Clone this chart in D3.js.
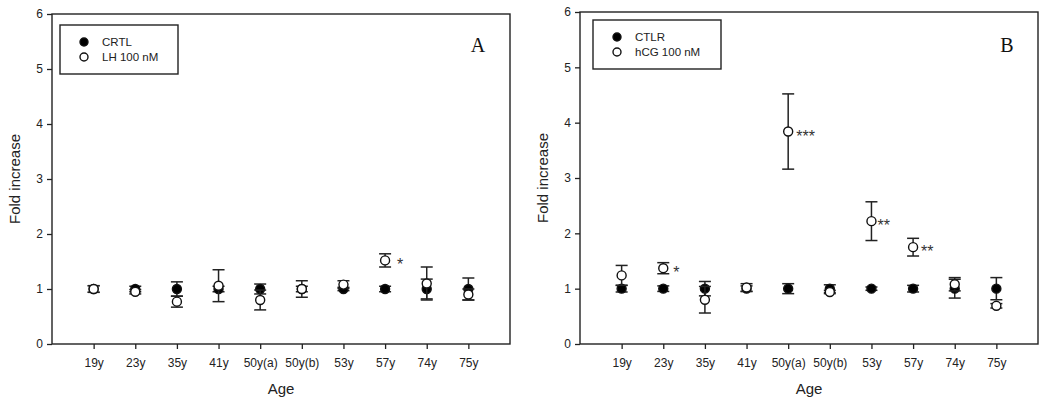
<!DOCTYPE html>
<html>
<head>
<meta charset="utf-8">
<script src="https://cdn.jsdelivr.net/npm/d3@7"></script>
<style>
  body { margin: 0; background: #fff; }
  svg { display: block; font-family: "Liberation Sans", Arial, sans-serif; }
</style>
</head>
<body>
<svg id="chart" width="1045" height="399"></svg>
<script>
const ages = ["19y", "23y", "35y", "41y", "50y(a)", "50y(b)", "53y", "57y", "74y", "75y"];
const yTicks = [0, 1, 2, 3, 4, 5, 6];

// panel A
const ctrlA = [1.0, 1.0, 1.0, 1.0, 1.0, 1.0, 1.0, 1.0, 1.0, 1.0];
const ctrlErrA = [0.06, 0.05, 0.13, 0.05, 0.09, 0.05, 0.03, 0.05, 0.18, 0.2];
const lhA = [1.0, 0.95, 0.77, 1.06, 0.8, 1.0, 1.08, 1.52, 1.1, 0.9];
const lhErrA = [0.06, 0.04, 0.1, 0.29, 0.18, 0.15, 0.07, 0.12, 0.3, 0.1];
const starsA = [{ i: 7, label: "*" }];

// panel B
const ctrlB = [1.0, 1.0, 1.0, 1.0, 1.0, 1.0, 1.0, 1.0, 1.0, 1.0];
const ctrlErrB = [0.06, 0.05, 0.13, 0.05, 0.09, 0.07, 0.03, 0.06, 0.17, 0.2];
const hcgB = [1.24, 1.37, 0.8, 1.02, 3.84, 0.94, 2.22, 1.75, 1.08, 0.69];
const hcgErrB = [0.18, 0.1, 0.24, 0.07, 0.68, 0.03, 0.35, 0.16, 0.12, 0.04];
const starsB = [{ i: 1, label: "*" }, { i: 4, label: "***" }, { i: 6, label: "**" }, { i: 7, label: "**" }];

const svg = d3.select("#chart");
const ink = "#222";

function drawPanel(p) {
  const x = d3.scaleLinear().domain([0, ages.length + 1]).range([p.left, p.right]);
  const y = d3.scaleLinear().domain([0, 6]).range([p.bottom, p.top]);
  const g = svg.append("g");

  // frame
  g.append("rect")
    .attr("x", p.left).attr("y", p.top)
    .attr("width", p.right - p.left).attr("height", p.bottom - p.top)
    .attr("fill", "none").attr("stroke", ink).attr("stroke-width", 1.4);

  const yAxis = d3.axisLeft(y).tickValues(yTicks).tickFormat(d3.format("d"))
    .tickSize(5).tickPadding(4).tickSizeOuter(0);
  const ya = g.append("g").attr("transform", `translate(${p.left},0)`).call(yAxis);
  const xAxis = d3.axisBottom(x).tickValues(d3.range(1, ages.length + 1))
    .tickFormat((d) => ages[d - 1]).tickSize(5).tickPadding(9).tickSizeOuter(0);
  const xa = g.append("g").attr("transform", `translate(0,${p.bottom})`).call(xAxis);
  [ya, xa].forEach((a) => {
    a.select(".domain").remove();
    a.selectAll("line").attr("stroke", ink).attr("stroke-width", 1.3);
    a.selectAll("text").attr("fill", "#222").style("font-size", "12px")
      .style("font-family", "'Liberation Sans', Arial, sans-serif");
  });

  g.append("text")
    .attr("x", (p.left + p.right) / 2).attr("y", 394)
    .attr("text-anchor", "middle").style("font-size", "15px").attr("fill", "#222")
    .text("Age");
  g.append("text")
    .attr("transform", `translate(${p.left - 32},${(p.top + p.bottom) / 2}) rotate(-90)`)
    .attr("text-anchor", "middle").style("font-size", "15px").attr("fill", "#222")
    .text("Fold increase");

  // series: control (filled) first, treatment (open) on top
  const series = [
    { vals: p.ctrl, errs: p.ctrlErr, fill: "#000" },
    { vals: p.trt, errs: p.trtErr, fill: "#fff" },
  ];
  series.forEach((s) => {
    const rows = s.vals.map((v, i) => ({ i: i + 1, v, e: s.errs[i] }));
    const eb = g.append("g").attr("stroke", ink).attr("stroke-width", 1.5);
    eb.selectAll(".stem").data(rows).enter().append("line")
      .attr("x1", (d) => x(d.i)).attr("x2", (d) => x(d.i))
      .attr("y1", (d) => y(d.v - d.e)).attr("y2", (d) => y(d.v + d.e));
    [-1, 1].forEach((sgn) => {
      eb.selectAll(".cap" + sgn).data(rows).enter().append("line")
        .attr("x1", (d) => x(d.i) - 6).attr("x2", (d) => x(d.i) + 6)
        .attr("y1", (d) => y(d.v + sgn * d.e)).attr("y2", (d) => y(d.v + sgn * d.e));
    });
    g.selectAll(null).data(rows).enter().append("circle")
      .attr("cx", (d) => x(d.i)).attr("cy", (d) => y(d.v)).attr("r", 4.5)
      .attr("fill", s.fill).attr("stroke", "#111").attr("stroke-width", 1.4);
  });

  // significance marks next to the treated points
  g.selectAll(".star").data(p.stars).enter().append("text")
    .attr("x", (d) => x(d.i + 1) + d.dx)
    .attr("y", (d) => y(p.trt[d.i]) + 10)
    .style("font-size", "16px").attr("fill", "#333")
    .text((d) => d.label);

  // legend
  const lg = g.append("g").attr("transform", `translate(${p.legX},${p.legY})`);
  lg.append("rect").attr("width", p.legW).attr("height", 49)
    .attr("fill", "#fff").attr("stroke", ink).attr("stroke-width", 1.4);
  p.legend.forEach((lab, k) => {
    lg.append("circle").attr("cx", 24).attr("cy", 17 + k * 15).attr("r", 4)
      .attr("fill", k === 0 ? "#000" : "#fff").attr("stroke", "#111").attr("stroke-width", 1.4);
    lg.append("text").attr("x", 42).attr("y", 21 + k * 15)
      .style("font-size", "11.5px").attr("fill", "#222").text(lab);
  });

  g.append("text")
    .attr("x", p.tagX).attr("y", 52)
    .attr("text-anchor", "middle")
    .style("font-family", "'Liberation Serif', 'Times New Roman', serif")
    .style("font-size", "20px").attr("fill", "#111")
    .text(p.tag);
}

drawPanel({
  left: 52, right: 510, top: 14, bottom: 344,
  ctrl: ctrlA, ctrlErr: ctrlErrA, trt: lhA, trtErr: lhErrA,
  stars: starsA.map((s) => ({ ...s, dx: 12 })),
  legend: ["CRTL", "LH 100 nM"], legX: 60, legY: 25, legW: 118,
  tag: "A", tagX: 478,
});

drawPanel({
  left: 580, right: 1038, top: 12, bottom: 344,
  ctrl: ctrlB, ctrlErr: ctrlErrB, trt: hcgB, trtErr: hcgErrB,
  stars: starsB.map((s) => ({ ...s, dx: s.i === 6 ? 6 : s.i === 1 ? 10 : 8 })),
  legend: ["CTLR", "hCG 100 nM"], legX: 593, legY: 20, legW: 128,
  tag: "B", tagX: 1007,
});
</script>
</body>
</html>
